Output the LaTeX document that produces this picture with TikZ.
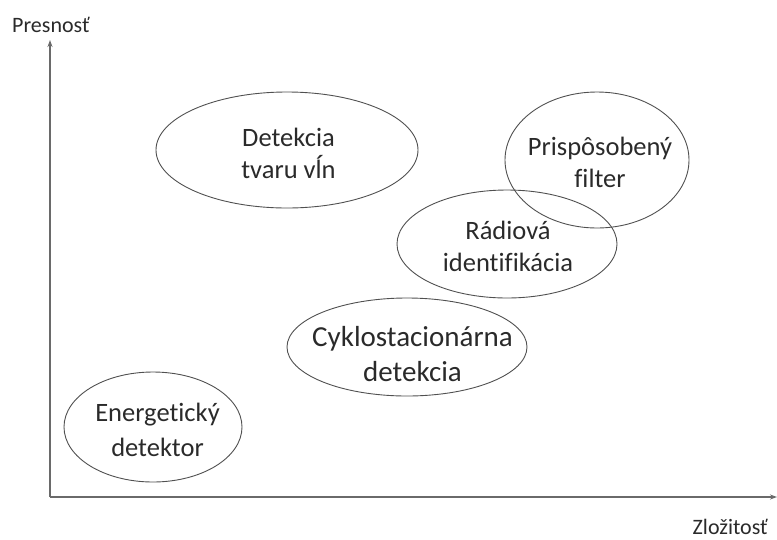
\documentclass[tikz,border=0pt]{standalone}
\usepackage{fontspec}
\setmainfont[Ligatures=NoCommon]{Carlito}
\usetikzlibrary{shapes.geometric,arrows.meta}
\definecolor{axisgray}{HTML}{6A6A6A}
\definecolor{ringgray}{HTML}{505050}
\definecolor{txt}{HTML}{2A2A2A}
\tikzset{
  ring/.style={ellipse, draw=ringgray, line width=0.9pt, inner sep=0pt},
  method/.style={align=center, inner sep=0pt, text=txt, font=\fontsize{26.5}{32}\selectfont},
  axislabel/.style={text=txt, font=\fontsize{22}{24}\selectfont, inner sep=0pt},
  axisline/.style={draw=axisgray, line width=1.2pt, -{Stealth[length=7pt,width=5pt]}}
}
\begin{document}
\begin{tikzpicture}[x=1pt,y=-1pt]
\useasboundingbox (0,0) rectangle (777,539);
% axes
\coordinate (o) at (50,497);
\coordinate (ytop) at (50,40);
\coordinate (xend) at (777,497);
\draw[axisline] (o) -- (ytop);
\draw[axisline] (o) -- (xend);
\node[axislabel, anchor=base west] (ylab) at (12,32) {Presnosť};
\node[axislabel, anchor=base east] (xlab) at (768,534) {Zložitosť};
% methods: outline, then its two-line caption
\node[ring, minimum width=262pt, minimum height=116pt] (wave) at (287,150) {};
\node[method] (wave-t) at (288.5,153) {Detekcia\\tvaru vĺn};
\node[ring, minimum width=184pt, minimum height=136pt] (match) at (597,160) {};
\node[method] (match-t) at (600,162.5) {Prispôsobený\\filter};
\node[ring, minimum width=220pt, minimum height=108pt] (radio) at (507,244) {};
\node[method] (radio-t) at (508,246) {Rádiová\\identifikácia};
\node[ring, minimum width=240pt, minimum height=98pt] (cyclo) at (407,347) {};
\node[method, font=\fontsize{29}{35}\selectfont] (cyclo-t) at (412.5,354) {Cyklostacionárna\\detekcia};
\node[ring, minimum width=178pt, minimum height=110pt] (energy) at (153,427) {};
\node[method, font=\fontsize{26.5}{35}\selectfont] (energy-t) at (157.5,430) {Energetický\\detektor};
\end{tikzpicture}
\end{document}
